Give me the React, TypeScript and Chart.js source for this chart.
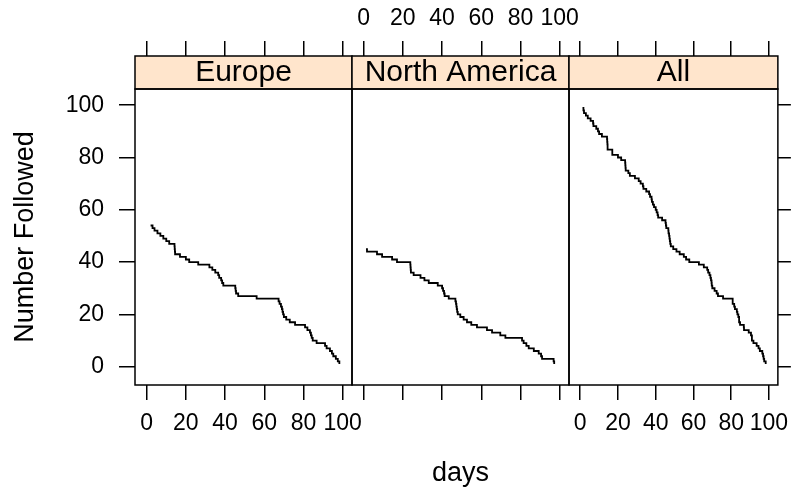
import React, { useEffect, useRef } from "react";
import { Chart, registerables } from "chart.js";

Chart.register(...registerables);

// Follow-up time (days) of every subject, sorted, per region
const europeDays = [
  2, 3, 4, 5.5, 7, 8.5, 10, 11.5, 14.2, 14.3, 14.4, 14.5, 17, 20, 21.7, 26.3,
  32, 33.5, 35, 36.5, 37, 38, 38.5, 39.1, 45.2, 45.4, 45.6, 46.7, 56.1, 67.3,
  67.8, 68.5, 69, 69.3, 69.6, 70, 71.2, 73, 75.7, 80.8, 82, 83.3, 83.8, 84.2,
  84.7, 86.7, 91, 91.8, 93.5, 94.5, 95.2, 96.5, 97.5, 98.3,
];
const northAmericaDays = [
  1.2, 1.7, 6.8, 9.4, 14.5, 17, 23.8, 23.9, 24, 24.1, 25.5, 29, 31, 33.2, 37.8,
  40, 40.5, 41, 41.3, 43.4, 46.8, 47.1, 47.3, 47.5, 47.7, 48, 49.3, 51, 52.7,
  54.9, 57.8, 62.9, 65.5, 69.7, 72.3, 80.8, 81.6, 83, 84.2, 86.8, 89.3, 90.5,
  91, 96.9, 97.2,
];
const allDays = [...europeDays, ...northAmericaDays].sort((a, b) => a - b);

const panelTitles = ["Europe", "North America", "All"];
const panelDays = [europeDays, northAmericaDays, allDays];

const dayTicks = [0, 20, 40, 60, 80, 100];
const followedTicks = [0, 20, 40, 60, 80, 100];

const xLabel = "days";
const yLabel = "Number Followed";

// Page and panel geometry
const WIDTH = 799;
const HEIGHT = 494;
const PANEL_EDGES = [135, 352, 569, 786];
const TOP_AXIS_H = 56;
const STRIP_H = 33;
const BOTTOM_AXIS_H = 109;
const LEFT_AXIS_W = 135;
const RIGHT_AXIS_W = 13;
const DAY_MIN = -5.95;
const DAY_MAX = 104.75;
const FOLLOWED_MIN = -7.0;
const FOLLOWED_MAX = 106.2;

const FONT = '"Liberation Sans", Arial, Helvetica, sans-serif';
const STRIP_FILL = "#FFE5CC";
const INK = "#000000";
const LINE_W = 1.5;
const CURVE_W = 1.8;

Chart.defaults.color = INK;
Chart.defaults.font.family = FONT;

// Number still followed: each subject leaves the count at its follow-up day
const followedSteps = (days: number[]) =>
  days.map((d, i) => ({ x: d, y: days.length - i }));

// Peach strip above each panel plus the black frames
const panelFrame = {
  id: "panelFrame",
  beforeDraw(chart: any) {
    const strip = chart.scales.strip;
    const ctx = chart.ctx;
    ctx.save();
    ctx.fillStyle = STRIP_FILL;
    ctx.fillRect(strip.left, strip.top, strip.right - strip.left, strip.bottom - strip.top);
    ctx.restore();
  },
  afterDraw(chart: any) {
    const { left, top, right, bottom } = chart.chartArea;
    const strip = chart.scales.strip;
    const ctx = chart.ctx;
    ctx.save();
    ctx.strokeStyle = INK;
    ctx.lineWidth = LINE_W;
    ctx.strokeRect(left, strip.top, right - left, strip.bottom - strip.top);
    ctx.strokeRect(left, top, right - left, bottom - top);
    ctx.restore();
  },
};

function buildConfig(p: number): any {
  const first = p === 0;
  const middle = p === 1;
  const last = p === 2;
  const tickFont = { family: FONT, size: 23 };
  const titleFont = { family: FONT, size: 27 };
  const tickMarks = (len: number) => ({
    drawOnChartArea: false,
    drawTicks: true,
    tickLength: len,
    color: INK,
    lineWidth: LINE_W,
  });
  const fixedTicks = (values: number[]) => (scale: any) => {
    scale.ticks = values.map((v) => ({ value: v }));
  };
  const tickText = (show: boolean, padding: number) => ({
    display: show,
    font: tickFont,
    color: INK,
    padding,
    autoSkip: false,
    maxRotation: 0,
    minRotation: 0,
    callback: (v: number) => String(v),
  });

  return {
    type: "line",
    data: {
      datasets: [
        {
          data: followedSteps(panelDays[p]),
          stepped: "before",
          borderColor: INK,
          borderWidth: CURVE_W,
          pointRadius: 0,
          fill: false,
          xAxisID: "x",
          yAxisID: "y",
        },
      ],
    },
    options: {
      animation: false,
      responsive: false,
      devicePixelRatio: 1,
      events: [],
      layout: {
        padding: {
          left: first ? 0 : PANEL_EDGES[p],
          right: last ? 0 : WIDTH - PANEL_EDGES[p + 1],
          top: 0,
          bottom: 0,
        },
      },
      plugins: {
        legend: { display: false },
        tooltip: { enabled: false },
      },
      scales: {
        x: {
          type: "linear",
          position: "bottom",
          min: DAY_MIN,
          max: DAY_MAX,
          afterBuildTicks: fixedTicks(dayTicks),
          afterFit: (s: any) => {
            s.height = BOTTOM_AXIS_H;
          },
          border: { display: false },
          grid: tickMarks(15),
          ticks: tickText(!middle, 10),
          title: {
            display: middle,
            text: xLabel,
            font: titleFont,
            color: INK,
            padding: { top: 0, bottom: 4 },
          },
        },
        xTop: {
          type: "linear",
          position: "top",
          weight: 1,
          min: DAY_MIN,
          max: DAY_MAX,
          afterBuildTicks: fixedTicks(dayTicks),
          afterFit: (s: any) => {
            s.height = TOP_AXIS_H;
          },
          border: { display: false },
          grid: tickMarks(15),
          ticks: tickText(middle, 9),
        },
        strip: {
          type: "category",
          position: "top",
          weight: 0,
          labels: [panelTitles[p]],
          offset: true,
          afterFit: (s: any) => {
            s.height = STRIP_H;
          },
          border: { display: false },
          grid: { display: false, drawTicks: false },
          ticks: {
            font: { family: FONT, size: 30, lineHeight: 1.1 },
            color: INK,
            padding: 0,
            autoSkip: false,
            maxRotation: 0,
            minRotation: 0,
          },
        },
        y: {
          type: "linear",
          display: !middle,
          position: last ? "right" : "left",
          min: FOLLOWED_MIN,
          max: FOLLOWED_MAX,
          afterBuildTicks: fixedTicks(followedTicks),
          afterFit: (s: any) => {
            s.width = middle ? 0 : last ? RIGHT_AXIS_W : LEFT_AXIS_W;
          },
          border: { display: false },
          grid: tickMarks(last ? 13 : 16),
          ticks: tickText(first, 15),
          title: {
            display: first,
            text: yLabel,
            font: titleFont,
            color: INK,
            padding: { top: 9, bottom: 0 },
          },
        },
      },
    },
    plugins: [panelFrame],
  };
}

function Panel({ index }: { index: number }) {
  const ref = useRef<HTMLCanvasElement>(null);
  useEffect(() => {
    if (!ref.current) return;
    const chart = new Chart(ref.current, buildConfig(index));
    return () => chart.destroy();
  }, [index]);
  return (
    <canvas
      ref={ref}
      width={WIDTH}
      height={HEIGHT}
      style={{ position: "absolute", left: 0, top: 0, width: WIDTH, height: HEIGHT }}
    />
  );
}

export default function App() {
  return (
    <div
      style={{
        position: "absolute",
        left: 0,
        top: 0,
        width: WIDTH,
        height: HEIGHT,
        background: "#ffffff",
        overflow: "hidden",
      }}
    >
      {panelTitles.map((_, i) => (
        <Panel key={i} index={i} />
      ))}
    </div>
  );
}
